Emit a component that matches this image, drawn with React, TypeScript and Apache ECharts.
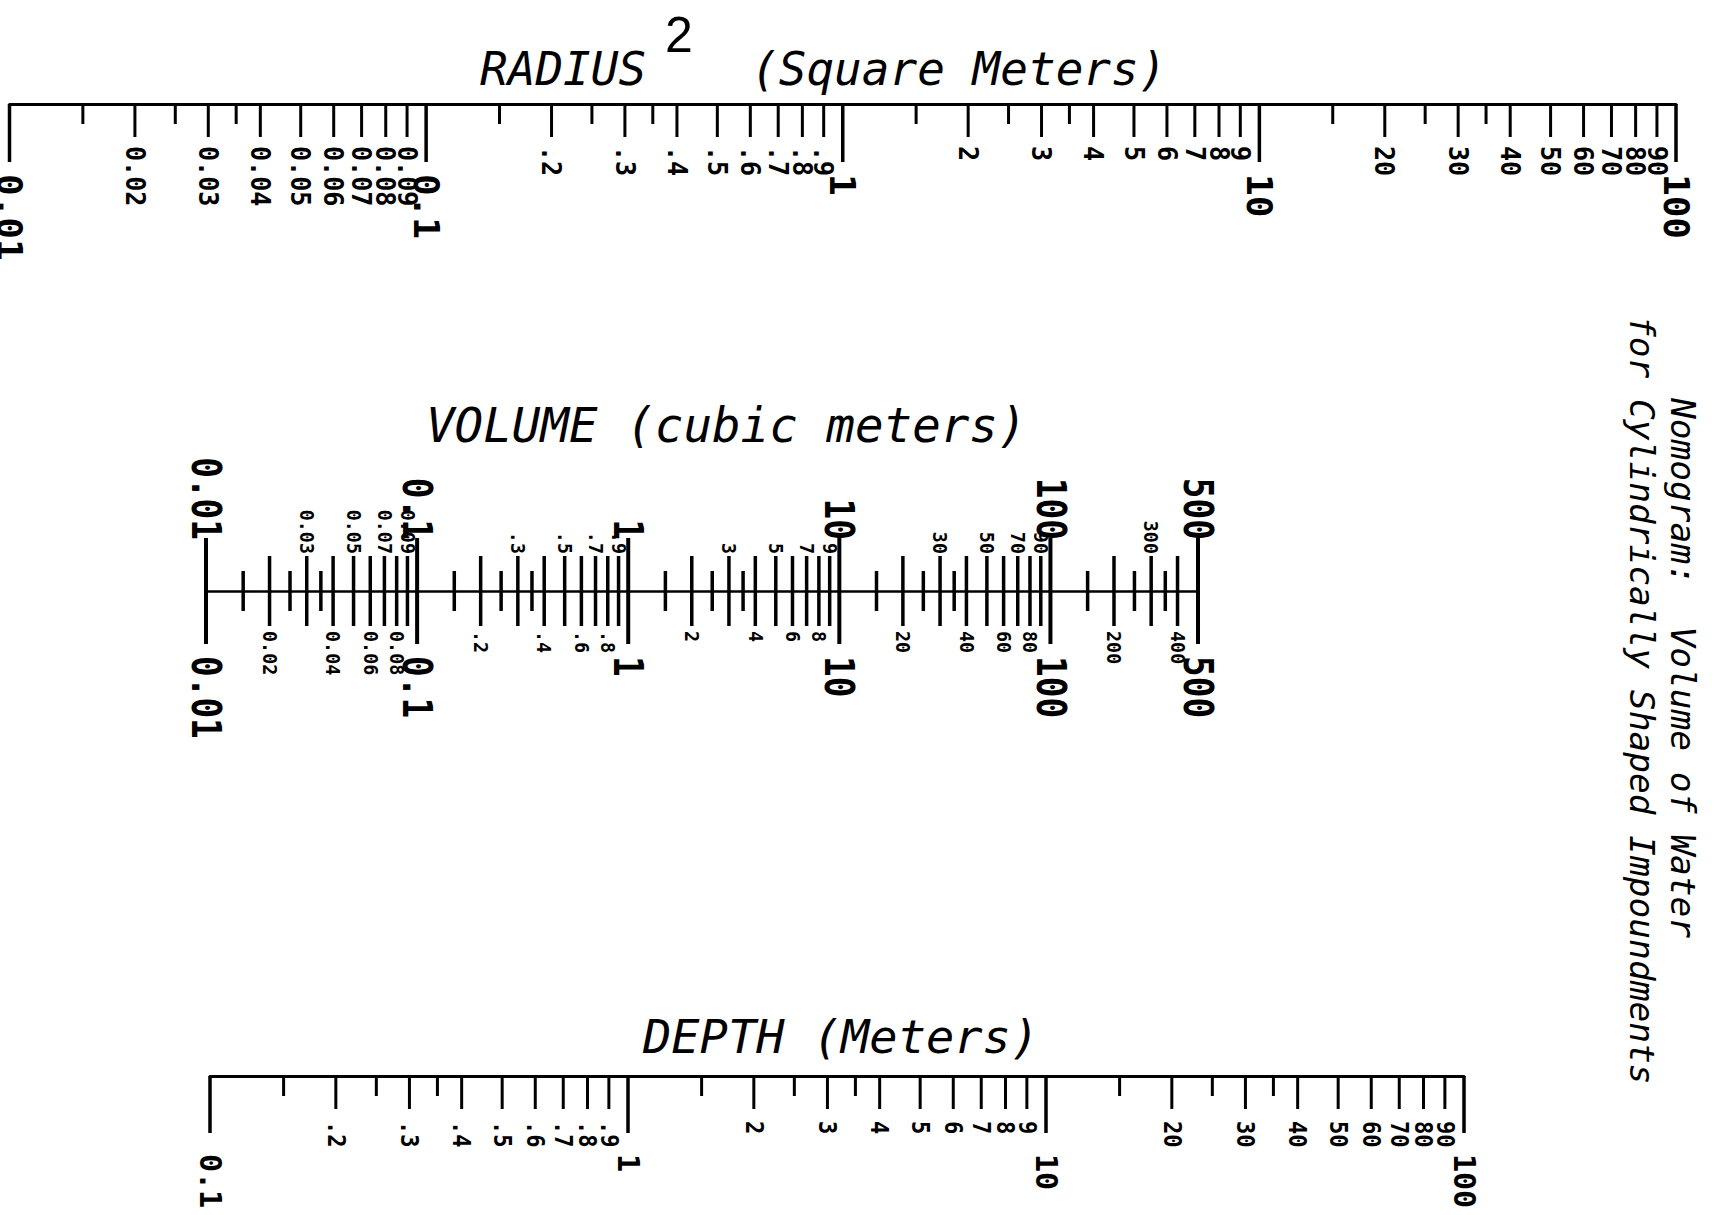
import React, { useEffect, useRef } from "react";
import * as echarts from "echarts";

// ---------------- data ----------------
const radiusMajorValues = [0.01, 0.1, 1, 10, 100];
const radiusMajorLabels = ["0.01", "0.1", "1", "10", "100"];
const radiusMinorValues = [
  0.02, 0.03, 0.04, 0.05, 0.06, 0.07, 0.08, 0.09,
  0.2, 0.3, 0.4, 0.5, 0.6, 0.7, 0.8, 0.9,
  2, 3, 4, 5, 6, 7, 8, 9,
  20, 30, 40, 50, 60, 70, 80, 90,
];
const radiusMinorLabels = [
  "0.02", "0.03", "0.04", "0.05", "0.06", "0.07", "0.08", "0.09",
  ".2", ".3", ".4", ".5", ".6", ".7", ".8", ".9",
  "2", "3", "4", "5", "6", "7", "8", "9",
  "20", "30", "40", "50", "60", "70", "80", "90",
];
const radiusHalfValues = [0.015, 0.025, 0.035, 0.15, 0.25, 0.35, 1.5, 2.5, 3.5, 15, 25, 35];

const volumeMajorValues = [0.01, 0.1, 1, 10, 100, 500];
const volumeMajorLabels = ["0.01", "0.1", "1", "10", "100", "500"];
const volumeUpperValues = [0.03, 0.05, 0.07, 0.09, 0.3, 0.5, 0.7, 0.9, 3, 5, 7, 9, 30, 50, 70, 90, 300];
const volumeUpperLabels = ["0.03", "0.05", "0.07", "0.09", ".3", ".5", ".7", ".9", "3", "5", "7", "9", "30", "50", "70", "90", "300"];
const volumeLowerValues = [0.02, 0.04, 0.06, 0.08, 0.2, 0.4, 0.6, 0.8, 2, 4, 6, 8, 20, 40, 60, 80, 200, 400];
const volumeLowerLabels = ["0.02", "0.04", "0.06", "0.08", ".2", ".4", ".6", ".8", "2", "4", "6", "8", "20", "40", "60", "80", "200", "400"];
const volumeHalfValues = [0.015, 0.025, 0.035, 0.15, 0.25, 0.35, 1.5, 2.5, 3.5, 15, 25, 35, 150, 250, 350];

const depthMajorValues = [0.1, 1, 10, 100];
const depthMajorLabels = ["0.1", "1", "10", "100"];
const depthMinorValues = [
  0.2, 0.3, 0.4, 0.5, 0.6, 0.7, 0.8, 0.9,
  2, 3, 4, 5, 6, 7, 8, 9,
  20, 30, 40, 50, 60, 70, 80, 90,
];
const depthMinorLabels = [
  ".2", ".3", ".4", ".5", ".6", ".7", ".8", ".9",
  "2", "3", "4", "5", "6", "7", "8", "9",
  "20", "30", "40", "50", "60", "70", "80", "90",
];
const depthHalfValues = [0.15, 0.25, 0.35, 1.5, 2.5, 3.5, 15, 25, 35];

const titleRadius = "RADIUS";
const titleRadiusSup = "2";
const titleRadiusUnit = "(Square Meters)";
const titleVolume = "VOLUME (cubic meters)";
const titleDepth = "DEPTH (Meters)";
const noteLine1 = "Nomogram:  Volume of Water";
const noteLine2 = "for Cylindrically Shaped Impoundments";

// ---------------- styles ----------------
const MONO = '"DejaVu Sans Mono", "Liberation Mono", monospace';
const INK = "#000";

function tickSeries(axis: number, values: number[], up: number, down: number, width: number) {
  return {
    type: "custom",
    xAxisIndex: axis,
    yAxisIndex: axis,
    silent: true,
    clip: false,
    data: values.map((v) => [v, 0]),
    encode: { x: 0, y: 1 },
    renderItem: (_params: any, api: any) => {
      const p = api.coord([api.value(0), 0]);
      return {
        type: "line",
        shape: { x1: p[0], y1: p[1] - up, x2: p[0], y2: p[1] + down },
        style: { stroke: INK, lineWidth: width, lineCap: "butt" },
      };
    },
  };
}

function labelSeries(
  axis: number,
  values: number[],
  labels: string[],
  offset: number,
  above: boolean,
  font: string,
  squeeze: number
) {
  return {
    type: "custom",
    xAxisIndex: axis,
    yAxisIndex: axis,
    silent: true,
    clip: false,
    data: values.map((v) => [v, 0]),
    encode: { x: 0, y: 1 },
    renderItem: (params: any, api: any) => {
      const p = api.coord([api.value(0), 0]);
      const align = above ? "right" : "left";
      return {
        type: "text",
        x: p[0],
        y: above ? p[1] - offset : p[1] + offset,
        rotation: -Math.PI / 2,
        scaleX: squeeze,
        scaleY: 1,
        style: {
          text: labels[params.dataIndex],
          x: 0,
          y: 0,
          font,
          fill: INK,
          align,
          verticalAlign: "middle",
          textAlign: align,
          textVerticalAlign: "middle",
        },
      };
    },
  };
}

function titleText(text: string, x: number, y: number, font: string) {
  return {
    type: "text",
    x,
    y,
    silent: true,
    style: {
      text,
      x: 0,
      y: 0,
      font,
      fill: INK,
      align: "left",
      verticalAlign: "middle",
      textAlign: "left",
      textVerticalAlign: "middle",
    },
  };
}

function sideText(text: string, x: number, y: number, font: string) {
  return {
    type: "text",
    x,
    y,
    rotation: -Math.PI / 2,
    silent: true,
    style: {
      text,
      x: 0,
      y: 0,
      font,
      fill: INK,
      align: "left",
      verticalAlign: "middle",
      textAlign: "left",
      textVerticalAlign: "middle",
    },
  };
}

function buildOption() {
  const grids = [
    { left: 9.5, width: 1666.5, top: 54, height: 100 }, // radius line
    { left: 206, width: 992, top: 541, height: 100 }, // volume line
    { left: 210, width: 1254, top: 1026, height: 100 }, // depth line
  ].map((g) => ({ ...g, containLabel: false, outerBoundsMode: "none", show: false }));

  const xMin = [0.01, 0.01, 0.1];
  const xMax = [100, 500, 100];
  const lineW = [3, 2.5, 3];

  const xAxis = [0, 1, 2].map((i) => ({
    type: "log",
    logBase: 10,
    gridIndex: i,
    min: xMin[i],
    max: xMax[i],
    axisLine: { show: true, onZero: true, lineStyle: { color: INK, width: lineW[i] } },
    axisTick: { show: false },
    axisLabel: { show: false },
    splitLine: { show: false },
    minorTick: { show: false },
  }));
  const yAxis = [0, 1, 2].map((i) => ({
    type: "value",
    gridIndex: i,
    min: -1,
    max: 1,
    show: false,
    splitLine: { show: false },
  }));

  const series: any[] = [
    // radius (ticks hang down)
    tickSeries(0, radiusMajorValues, 0, 58, 3.5),
    tickSeries(0, radiusMinorValues, 0, 33, 3),
    tickSeries(0, radiusHalfValues, 0, 20, 3),
    labelSeries(0, radiusMajorValues, radiusMajorLabels, 70, false, `bold 36px ${MONO}`, 1),
    labelSeries(0, radiusMinorValues, radiusMinorLabels, 42, false, `bold 27px ${MONO}`, 0.93),

    // volume (ticks both sides)
    tickSeries(1, volumeMajorValues, 53, 53, 4),
    tickSeries(1, volumeUpperValues, 35, 35, 3.5),
    tickSeries(1, volumeLowerValues, 35, 35, 3.5),
    tickSeries(1, volumeHalfValues, 20, 20, 3.5),
    labelSeries(1, volumeMajorValues, volumeMajorLabels, 51, true, `bold 40px ${MONO}`, 0.86),
    labelSeries(1, volumeMajorValues, volumeMajorLabels, 65, false, `bold 40px ${MONO}`, 0.86),
    labelSeries(1, volumeUpperValues, volumeUpperLabels, 37, true, `bold 20px ${MONO}`, 0.92),
    labelSeries(1, volumeLowerValues, volumeLowerLabels, 40, false, `bold 20px ${MONO}`, 0.92),

    // depth (ticks hang down)
    tickSeries(2, depthMajorValues, 0, 57, 3.5),
    tickSeries(2, depthMinorValues, 0, 33, 3),
    tickSeries(2, depthHalfValues, 0, 20, 3),
    labelSeries(2, depthMajorValues, depthMajorLabels, 78, false, `bold 30px ${MONO}`, 1),
    labelSeries(2, depthMinorValues, depthMinorLabels, 45, false, `bold 24px ${MONO}`, 0.92),
  ];

  const graphic = [
    titleText(titleRadius, 480, 69, `italic 46px ${MONO}`),
    titleText(titleRadiusSup, 665, 35, `50px "Liberation Sans", sans-serif`),
    titleText(titleRadiusUnit, 751, 69, `italic 46px ${MONO}`),
    titleText(titleVolume, 426, 425, `italic 47.5px ${MONO}`),
    titleText(titleDepth, 643, 1036, `italic 47px ${MONO}`),
    sideText(noteLine1, 1683, 398, `italic 34.5px ${MONO}`),
    sideText(noteLine2, 1642, 316, `italic 34.5px ${MONO}`),
  ];

  return {
    animation: false,
    backgroundColor: "#ffffff",
    grid: grids,
    xAxis,
    yAxis,
    series,
    graphic,
  };
}

export default function App() {
  const ref = useRef<HTMLDivElement>(null);
  useEffect(() => {
    if (!ref.current) return;
    const chart = echarts.init(ref.current, null, { renderer: "svg" });
    chart.setOption(buildOption() as any);
    return () => {
      chart.dispose();
    };
  }, []);
  return (
    <div
      ref={ref}
      style={{ position: "fixed", left: 0, top: 0, width: 1716, height: 1215, background: "#fff" }}
    />
  );
}
